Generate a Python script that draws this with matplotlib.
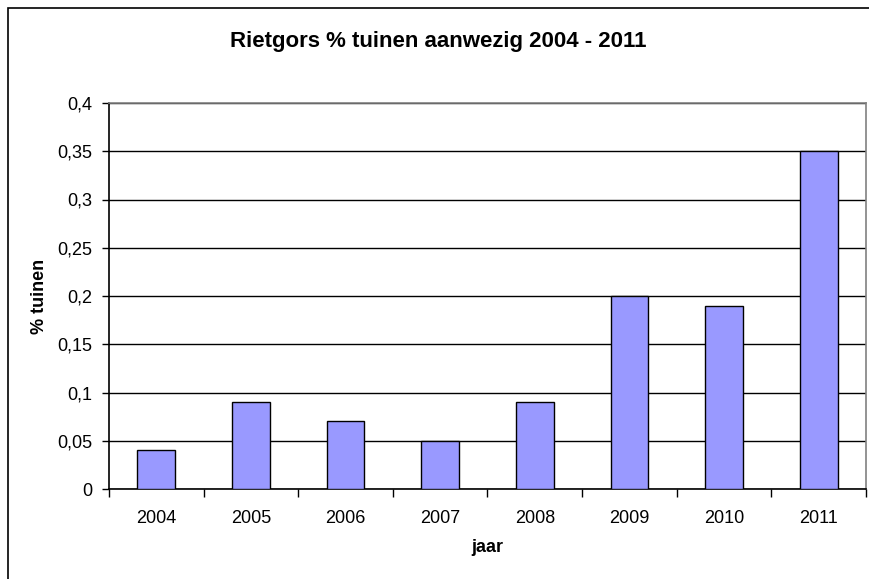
import matplotlib
matplotlib.use("Agg")
import matplotlib.pyplot as plt
from matplotlib.patches import Rectangle
import numpy as np

years = ["2004", "2005", "2006", "2007", "2008", "2009", "2010", "2011"]
values = [0.04, 0.09, 0.07, 0.05, 0.09, 0.20, 0.19, 0.35]
yticks = [0, 0.05, 0.1, 0.15, 0.2, 0.25, 0.3, 0.35, 0.4]
ytick_labels = ["0", "0,05", "0,1", "0,15", "0,2", "0,25", "0,3", "0,35", "0,4"]

plt.rcParams['font.family'] = ['Liberation Sans', 'DejaVu Sans']

W, H = 870, 579
fig = plt.figure(figsize=(W / 100, H / 100), dpi=100)
fig.patch.set_facecolor("white")

# outer chart border (left and top visible)
fig.add_artist(Rectangle((8.5 / W, -0.05), 1.1, 1 - 7.5 / H + 0.05,
                         transform=fig.transFigure, fill=False,
                         edgecolor="black", linewidth=1.2))

left, right, top, bottom = 109, 866, 103, 489
ax = fig.add_axes([left / W, 1 - bottom / H, (right - left) / W, (bottom - top) / H])

x = np.arange(len(years))
ax.bar(x, values, width=0.4, color="#9999FF", edgecolor="black", linewidth=1.0, zorder=3)

ax.set_xlim(-0.5, len(years) - 0.5)
ax.set_ylim(0, 0.4)
ax.set_yticks(yticks)
ax.set_yticklabels(ytick_labels, fontsize=13)
ax.yaxis.grid(True, color="black", linewidth=1.0, zorder=0)
ax.set_axisbelow(True)

ax.set_xticks(x)
ax.set_xticklabels(years, fontsize=13)
ax.set_xticks(np.arange(len(years) + 1) - 0.5, minor=True)
ax.tick_params(axis="x", which="major", length=0, pad=15)
ax.tick_params(axis="x", which="minor", length=6, width=1.0, direction="out")
ax.tick_params(axis="y", length=5, width=1.0, direction="out", pad=7)

for s in ["top", "right"]:
    ax.spines[s].set_color("#808080")
    ax.spines[s].set_linewidth(1.2)
for s in ["left", "bottom"]:
    ax.spines[s].set_color("black")
    ax.spines[s].set_linewidth(1.2)

fig.text(438 / W, 1 - 42 / H, "Rietgors % tuinen aanwezig 2004 - 2011",
         ha="center", va="center", fontsize=16, fontweight="bold")
fig.text(487 / W, 1 - 548 / H, "jaar", ha="center", va="center",
         fontsize=13, fontweight="bold")
fig.text(40 / W, 1 - ((top + bottom) / 2) / H, "% tuinen", ha="center", va="center",
         rotation=90, fontsize=13, fontweight="bold")

fig.savefig("out.png", dpi=100)
